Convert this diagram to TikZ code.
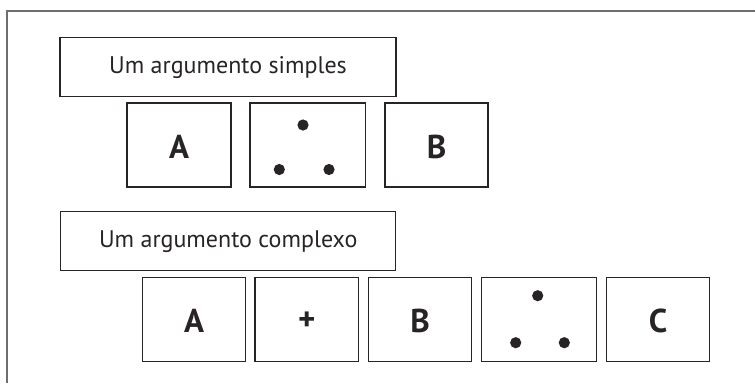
\documentclass[tikz,border=0pt]{standalone}
\usepackage{fontspec}
\setmainfont{PT Sans}
\definecolor{framegray}{RGB}{110,110,110}
\definecolor{boxline}{RGB}{40,36,37}
\begin{document}
\begin{tikzpicture}[x=1pt,y=-1pt,
  box/.style={draw=boxline,line width=1.1pt,fill=white,inner sep=0pt,minimum height=84pt},
  titlebox/.style={draw=boxline,line width=1.1pt,inner sep=0pt,minimum height=59pt,minimum width=336pt,font=\fontsize{24}{27}\selectfont,text=boxline},
  letter/.style={font=\fontsize{33}{36}\selectfont\bfseries,text=boxline,yshift=-1.5pt},
  dot/.style={fill=boxline,draw=none}]
\useasboundingbox (0,0) rectangle (755,383);
\coordinate (fa) at (7,383);
\coordinate (fb) at (7,10.7);
\coordinate (fc) at (755,10.7);
\draw[framegray,line width=1.6pt] (fa) -- (fb) -- (fc);
% row 1
\node[titlebox] (t1) at (228,67.2) {Um argumento simples};
\node[box,minimum width=104pt] (a1) at (179,145) {};
\node[letter] (la1) at (a1) {A};
\node[box,minimum width=115.7pt] (d1) at (307.8,145) {};
\node[box,minimum width=103pt] (b1) at (436.5,145) {};
\node[letter] (lb1) at (b1) {B};
\fill[dot] (303,125) circle (5.6);
\fill[dot] (279.3,169.5) circle (5.6);
\fill[dot] (329,169.5) circle (5.6);
% row 2
\node[titlebox,minimum width=335pt] (t2) at (228.2,241.2) {Um argumento complexo};
\node[box,minimum width=103.4pt] (a2) at (194,319.3) {};
\node[letter] (la2) at (a2) {A};
\node[box,minimum width=103.7pt] (p2) at (306.8,319.3) {};
\node[letter] (lp2) at (p2) {+};
\node[box,minimum width=103.4pt] (b2) at (420,319.3) {};
\node[letter] (lb2) at (b2) {B};
\node[box,minimum width=115.4pt] (d2) at (539,319.3) {};
\node[box,minimum width=103.4pt] (c2) at (658,319.3) {};
\node[letter] (lc2) at (c2) {C};
\fill[dot] (537.7,295.7) circle (5.6);
\fill[dot] (515.7,342.7) circle (5.6);
\fill[dot] (564.3,342.7) circle (5.6);
\end{tikzpicture}
\end{document}
